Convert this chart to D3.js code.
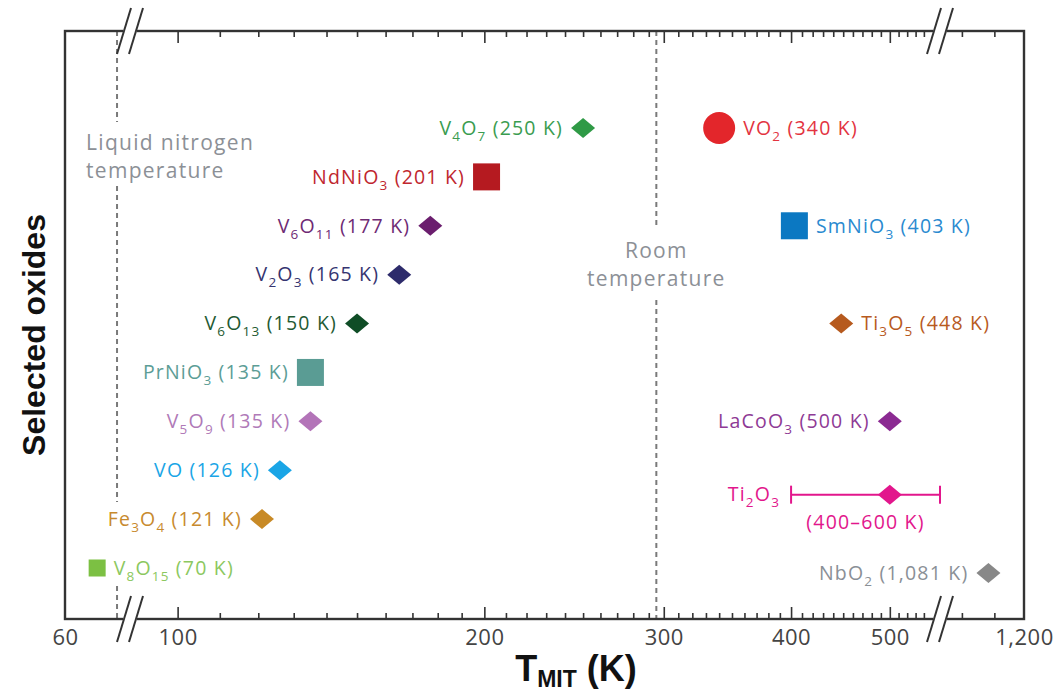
<!DOCTYPE html>
<html>
<head>
<meta charset="utf-8">
<script src="https://cdn.jsdelivr.net/npm/d3@7"></script>
<style>
  body { margin: 0; background: #fff; }
  svg { display: block; }
</style>
</head>
<body>
<div id="chart"></div>
<script>
// data
const oxides = ["V4O7", "VO2", "NdNiO3", "V6O11", "SmNiO3", "V2O3", "V6O13", "Ti3O5",
                "PrNiO3", "V5O9", "LaCoO3", "VO", "Ti2O3", "Fe3O4", "V8O15", "NbO2"]
const tMIT = [250, 340, 201, 177, 403, 165, 150, 448, 135, 135, 500, 126, 500, 121, 70, 1081]
const tText = ["250 K", "340 K", "201 K", "177 K", "403 K", "165 K", "150 K", "448 K",
               "135 K", "135 K", "500 K", "126 K", "400–600 K", "121 K", "70 K", "1,081 K"]
const rowIdx = [0, 0, 1, 2, 2, 3, 4, 4, 5, 6, 6, 7, 7.5, 8, 9, 9.1]
const ti2o3Range = [400, 600]

const majorTicks = [100, 200, 300, 400, 500]
const edgeTicks = [60, 1200]
const tickText = {60: "60", 100: "100", 200: "200", 300: "300", 400: "400", 500: "500", 1200: "1,200"}
const liquidN2 = 77
const roomT = 295

// styling
const shape = ["diamond", "circle", "square", "diamond", "square", "diamond", "diamond", "diamond",
               "square", "diamond", "diamond", "diamond", "diamond", "diamond", "smallsquare", "diamond"]
const color = ["#2f9a46", "#e3262b", "#b51a20", "#6b1e6e", "#0b78c2", "#2d2b6b", "#0f4d26", "#b65a1e",
               "#5a9c94", "#b374b8", "#8b2a92", "#1aa5e6", "#e2168c", "#c88a26", "#7cc043", "#888888"]
const labelColor = ["#3a9c50", "#e3343f", "#c0262e", "#6e2a74", "#2a8ad0", "#353470", "#1f5a33", "#b85a1e",
                    "#5c9d96", "#b07ab8", "#8e3a95", "#1aa5e6", "#e2168c", "#c88a2e", "#8cc860", "#8a8f96"]
const side = ["left", "right", "left", "left", "right", "left", "left", "right",
              "left", "left", "left", "left", "left", "left", "right", "left"]

const width = 1056, height = 696
const frame = {left: 65, right: 1024, top: 31, bottom: 619}

const svg = d3.select("#chart").append("svg")
    .attr("width", width).attr("height", height)

// broken log axis: three pieces
const segDomain = [[60, 80], [90, 555], [935, 1200]]
const segRange = [[65, 125], [131, 936], [939, 1024]]
const segs = segDomain.map((d, i) => d3.scaleLog().domain(d).range(segRange[i]))
const breaks = [130, 940]

function x(v) {
    if (v <= segDomain[0][1]) return segs[0](v)
    if (v < segDomain[1][0]) return breaks[0]
    if (v <= segDomain[1][1]) return segs[1](v)
    if (v < segDomain[2][0]) return breaks[1]
    return segs[2](v)
}

const y = d3.scaleLinear().domain([0, 9]).range([128, 568])

const labelFont = "'Open Sans', 'DejaVu Sans', sans-serif"

// ---- dashed reference lines
const refLines = [
    {v: liquidN2, parts: [[frame.top, 122], [186, 502], [586, frame.bottom]]},
    {v: roomT, parts: [[frame.top, 226], [300, frame.bottom]]}
]
refLines.forEach(r => {
    svg.append("g").selectAll("line").data(r.parts).join("line")
        .attr("x1", x(r.v)).attr("x2", x(r.v))
        .attr("y1", d => d[0]).attr("y2", d => d[1])
        .attr("stroke", "#7a7a7a").attr("stroke-width", 2)
        .attr("stroke-dasharray", "5,4")
})

function note(xx, yy, txt, anchor) {
    svg.append("text").attr("x", xx).attr("y", yy).attr("text-anchor", anchor)
        .attr("font-family", labelFont).attr("font-size", 21).attr("letter-spacing", 1.3)
        .attr("fill", "#8c9096").text(txt)
}
note(x(liquidN2) - 31, 150, "Liquid nitrogen", "start")
note(x(liquidN2) - 31, 178, "temperature", "start")
note(x(roomT), 258, "Room", "middle")
note(x(roomT), 286, "temperature", "middle")

// ---- axes (ticks inward, top mirrors bottom)
const minorTicks = [d3.range(110, 200, 10), d3.range(210, 300, 10), d3.range(310, 400, 10),
                    d3.range(410, 500, 10), d3.range(510, 550, 10)].flat()
const rightMinor = [1000, 1100]

function drawAxis(yPos, axisFn, withLabels) {
    const g = svg.append("g").attr("transform", `translate(0,${yPos})`)
    g.append("g").call(axisFn(segs[1]).tickValues(minorTicks).tickSize(-6).tickFormat(""))
    g.append("g").call(axisFn(segs[2]).tickValues(rightMinor).tickSize(-6).tickFormat(""))
    g.append("g").call(axisFn(segs[1]).tickValues(majorTicks).tickSize(-12).tickPadding(10)
        .tickFormat(d => withLabels ? tickText[d] : ""))
    g.append("g").call(axisFn(segs[0]).tickValues([edgeTicks[0]]).tickSize(0).tickPadding(10)
        .tickFormat(d => withLabels ? tickText[d] : ""))
    g.append("g").call(axisFn(segs[2]).tickValues([edgeTicks[1]]).tickSize(0).tickPadding(10)
        .tickFormat(d => withLabels ? tickText[d] : ""))
    g.selectAll(".domain").remove()
    g.selectAll(".tick line").attr("stroke", "#333").attr("stroke-width", 1.6)
    g.selectAll(".tick text").attr("font-family", labelFont).attr("font-size", 22)
        .attr("letter-spacing", 0.5).attr("fill", "#444")
}
drawAxis(frame.bottom, d3.axisBottom, true)
drawAxis(frame.top, d3.axisTop, false)

// frame
svg.append("rect").attr("x", frame.left).attr("y", frame.top)
    .attr("width", frame.right - frame.left).attr("height", frame.bottom - frame.top)
    .attr("fill", "none").attr("stroke", "#333").attr("stroke-width", 2.4)

// break marks
breaks.forEach(bx => {
    [frame.top, frame.bottom].forEach(by => {
        svg.append("rect").attr("x", bx - 7).attr("y", by - 3).attr("width", 14).attr("height", 6)
            .attr("fill", "#fff")
        ;[-6, 6].forEach(off => {
            svg.append("line")
                .attr("x1", bx + off - 7).attr("y1", by + 23)
                .attr("x2", bx + off + 7).attr("y2", by - 23)
                .attr("stroke", "#333").attr("stroke-width", 2)
        })
    })
})

// ---- markers
const marks = svg.append("g")
oxides.forEach((name, i) => {
    const cx = x(tMIT[i]), cy = y(rowIdx[i])
    if (name === "Ti2O3") {
        const x0 = x(ti2o3Range[0]), x1 = x(ti2o3Range[1])
        marks.append("line").attr("x1", x0).attr("x2", x1).attr("y1", cy).attr("y2", cy)
            .attr("stroke", color[i]).attr("stroke-width", 2)
        ;[x0, x1].forEach(xx => marks.append("line").attr("x1", xx).attr("x2", xx)
            .attr("y1", cy - 9).attr("y2", cy + 9).attr("stroke", color[i]).attr("stroke-width", 2))
    }
    if (shape[i] === "diamond") {
        marks.append("path").attr("d", "M0,-10L12,0L0,10L-12,0Z")
            .attr("transform", `translate(${cx},${cy})`).attr("fill", color[i])
    } else if (shape[i] === "circle") {
        marks.append("circle").attr("cx", cx).attr("cy", cy).attr("r", 16).attr("fill", color[i])
    } else {
        const s = shape[i] === "square" ? 27 : 17
        marks.append("rect").attr("x", cx - s / 2).attr("y", cy - s / 2)
            .attr("width", s).attr("height", s).attr("fill", color[i])
    }
})

// ---- labels with subscripts
function formulaLabel(t, formula, suffix) {
    let shifted = false
    formula.match(/\d+|\D+/g).forEach(part => {
        const isSub = /\d/.test(part)
        const ts = t.append("tspan").text(part)
        if (isSub) { ts.attr("font-size", 13.5).attr("dy", 6); shifted = true }
        else if (shifted) { ts.attr("dy", -6); shifted = false }
    })
    if (suffix) {
        const ts = t.append("tspan").text(suffix)
        if (shifted) ts.attr("dy", -6)
    }
}

const halfW = {diamond: 12, circle: 16, square: 13.5, smallsquare: 8.5}
oxides.forEach((name, i) => {
    const cy = y(rowIdx[i])
    const t = svg.append("text")
        .attr("font-family", labelFont).attr("font-size", 19.5).attr("letter-spacing", 1.2)
        .attr("fill", labelColor[i]).attr("dy", "0.35em").attr("y", cy)
    if (name === "Ti2O3") {
        t.attr("x", x(ti2o3Range[0]) - 11).attr("text-anchor", "end")
        formulaLabel(t, name, "")
        svg.append("text").attr("x", (x(ti2o3Range[0]) + x(ti2o3Range[1])) / 2).attr("y", cy + 28)
            .attr("dy", "0.35em").attr("text-anchor", "middle")
            .attr("font-family", labelFont).attr("font-size", 19.5).attr("letter-spacing", 1.2)
            .attr("fill", labelColor[i]).text("(" + tText[i] + ")")
        return
    }
    const off = halfW[shape[i]] + 8
    if (side[i] === "left") t.attr("x", x(tMIT[i]) - off).attr("text-anchor", "end")
    else t.attr("x", x(tMIT[i]) + off)
    formulaLabel(t, name, " (" + tText[i] + ")")
})

// ---- axis titles
const xt = svg.append("text").attr("x", 576).attr("y", 681).attr("text-anchor", "middle")
    .attr("font-family", "'Liberation Sans', Arial, sans-serif").attr("font-weight", "bold")
    .attr("font-size", 36).attr("fill", "#111")
xt.append("tspan").text("T")
xt.append("tspan").text("MIT").attr("font-size", 23).attr("dy", 6)
xt.append("tspan").text(" (K)").attr("dy", -6)

svg.append("text").attr("transform", "translate(45,335) rotate(-90)").attr("text-anchor", "middle")
    .attr("font-family", "'Liberation Sans', Arial, sans-serif").attr("font-weight", "bold")
    .attr("font-size", 32).attr("fill", "#111").text("Selected oxides")
</script>
</body>
</html>
